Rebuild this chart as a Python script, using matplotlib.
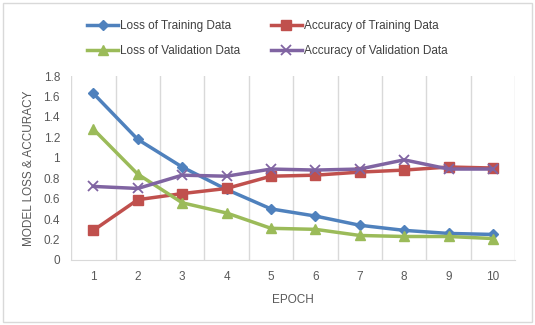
import matplotlib
matplotlib.use('Agg')
from matplotlib import pyplot as plt
from matplotlib.patches import Rectangle

plt.rcParams['font.family'] = ['Liberation Sans', 'DejaVu Sans']

epochs = [1, 2, 3, 4, 5, 6, 7, 8, 9, 10]
loss_train = [1.63, 1.18, 0.91, 0.69, 0.50, 0.43, 0.34, 0.29, 0.26, 0.25]
acc_train = [0.29, 0.59, 0.65, 0.70, 0.82, 0.83, 0.86, 0.88, 0.91, 0.90]
loss_val = [1.28, 0.84, 0.56, 0.46, 0.31, 0.30, 0.24, 0.23, 0.23, 0.21]
acc_val = [0.72, 0.70, 0.83, 0.82, 0.89, 0.88, 0.89, 0.98, 0.89, 0.89]
y_ticks = [0, 0.2, 0.4, 0.6, 0.8, 1, 1.2, 1.4, 1.6, 1.8]

fig = plt.figure(figsize=(5.35, 3.25), dpi=100)
ax = fig.add_axes([0.133, 0.2, 0.83, 0.566])

# bordure grise autour de la figure
fig.patches.append(Rectangle((0.006, 0.01), 0.988, 0.98, transform=fig.transFigure,
                             fill=False, edgecolor='#d9d9d9', linewidth=1))

l1, = ax.plot(epochs, loss_train, color='#4F81BD', marker='D', markersize=5, linewidth=2.5,
              label='Loss of Training Data')
l2, = ax.plot(epochs, acc_train, color='#C0504D', marker='s', markersize=7, linewidth=2.5,
              label='Accuracy of Training Data')
l3, = ax.plot(epochs, loss_val, color='#9BBB59', marker='^', markersize=7, linewidth=2.5,
              label='Loss of Validation Data')
l4, = ax.plot(epochs, acc_val, color='#8064A2', marker='x', markersize=7, markeredgewidth=1.3,
              linewidth=2.5, label='Accuracy of Validation Data')

ax.set_xlim(0.5, 10.5)
ax.set_ylim(0, 1.8)
ax.set_yticks(y_ticks)
ax.set_yticklabels([f'{v:g}' for v in y_ticks])
ax.set_xticks(epochs)
ax.set_xticks([e + 0.5 for e in [0] + epochs], minor=True)
ax.grid(True, axis='x', which='minor', color='#d9d9d9', linewidth=1)
ax.tick_params(which='both', length=0, labelsize=8.5, colors='#595959', pad=8)
for s in ['top', 'right', 'left']:
    ax.spines[s].set_visible(False)
ax.spines['bottom'].set_color('#d9d9d9')

ax.set_xlabel('EPOCH', fontsize=8.5, color='#595959', labelpad=8)
ax.set_ylabel('MODEL LOSS & ACCURACY', fontsize=8.5, color='#595959', labelpad=6)

# ordre par lignes comme dans Excel
leg = fig.legend([l1, l3, l2, l4], [l.get_label() for l in [l1, l3, l2, l4]],
                 loc='upper center', bbox_to_anchor=(0.5, 0.97), ncol=2, frameon=False,
                 fontsize=8.5, handlelength=2.6, columnspacing=2.6, handletextpad=0.2,
                 labelspacing=1.1)
for t in leg.get_texts():
    t.set_color('#404040')

fig.savefig('out.png', dpi=100)
